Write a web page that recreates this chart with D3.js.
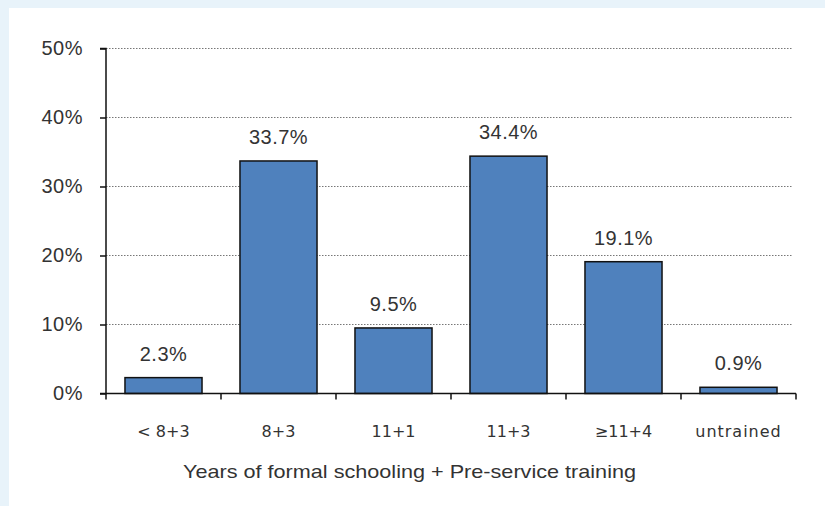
<!DOCTYPE html>
<html><head><meta charset="utf-8">
<script src="https://cdn.jsdelivr.net/npm/d3@7"></script>
<style>
html,body{margin:0;padding:0;background:#fff;}
svg{display:block;}
</style></head>
<body>
<script>
const categories = ["< 8+3", "8+3", "11+1", "11+3", "≥11+4", "untrained"];
const values = [2.3, 33.7, 9.5, 34.4, 19.1, 0.9];
const valueLabels = ["2.3%", "33.7%", "9.5%", "34.4%", "19.1%", "0.9%"];
const yTicks = [0, 10, 20, 30, 40, 50];
const xTitle = "Years of formal schooling + Pre-service training";

const W = 825, H = 506;
const svg = d3.select("body").append("svg").attr("width", W).attr("height", H);
svg.append("rect").attr("width", W).attr("height", H).attr("fill", "#e8f3fa");
svg.append("rect").attr("x", 9).attr("y", 8).attr("width", W - 9).attr("height", H - 8).attr("fill", "#fff");

const x0 = 106, x1 = 796, y0 = 393.5, y1 = 48.5;
const x = d3.scaleBand().domain(categories).range([x0, x1]).paddingInner(0.33).paddingOuter(0.165);
const y = d3.scaleLinear().domain([0, 50]).range([y0, y1]);

const fontA = "'Liberation Sans', Arial, sans-serif";
const fontT = "'DejaVu Sans', Verdana, sans-serif";
const txt = "#333";

// gridlines
svg.append("g").selectAll("line").data(yTicks.filter(d => d > 0)).join("line")
  .attr("x1", x0).attr("x2", 793).attr("y1", d => y(d)).attr("y2", d => y(d))
  .attr("stroke", "#777").attr("stroke-width", 1).attr("stroke-dasharray", "1.5,1.5");

// bars
svg.append("g").selectAll("rect").data(values).join("rect")
  .attr("x", (d, i) => x(categories[i]))
  .attr("width", x.bandwidth())
  .attr("y", d => y(d))
  .attr("height", d => y0 - y(d))
  .attr("fill", "#4f81bd").attr("stroke", "#111").attr("stroke-width", 1.5);

// value labels
svg.append("g").selectAll("text").data(values).join("text")
  .attr("x", (d, i) => x(categories[i]) + x.bandwidth() / 2)
  .attr("y", d => y(d) - 17)
  .attr("text-anchor", "middle")
  .attr("font-family", fontA).attr("font-size", 20).attr("letter-spacing", "0.5px").attr("fill", txt)
  .text((d, i) => valueLabels[i]);

// y axis
const yAxis = d3.axisLeft(y).tickValues(yTicks).tickFormat(d => d + "%").tickSize(6).tickPadding(17);
const gy = svg.append("g").attr("transform", `translate(${x0},0)`).call(yAxis);
gy.select(".domain").attr("stroke", "#111").attr("stroke-width", 1.5).attr("d", `M-6,${y1}H0V${y0}H-6`);
gy.selectAll(".tick line").attr("stroke", "#111").attr("stroke-width", 1.5);
gy.selectAll(".tick text").attr("font-family", fontA).attr("font-size", 20).attr("letter-spacing", "0.5px").attr("fill", txt);

// x axis
const xEdges = d3.range(categories.length + 1).map(i => x0 + (x1 - x0) * i / categories.length);
const gx = svg.append("g");
gx.append("line").attr("x1", x0).attr("x2", x1).attr("y1", y0).attr("y2", y0).attr("stroke", "#111").attr("stroke-width", 1.5);
gx.selectAll("line.t").data(xEdges).join("line").attr("class", "t")
  .attr("x1", d => d).attr("x2", d => d).attr("y1", y0).attr("y2", y0 + 6)
  .attr("stroke", "#111").attr("stroke-width", 1.5);
gx.selectAll("text").data(categories).join("text")
  .attr("x", d => x(d) + x.bandwidth() / 2)
  .attr("y", 437)
  .attr("text-anchor", "middle")
  .attr("font-family", fontT).attr("font-size", 16).attr("fill", txt)
  .attr("letter-spacing", d => d === "untrained" ? "1px" : "0px")
  .text(d => d);

svg.append("text").attr("x", 183).attr("y", 478)
  .attr("font-family", fontA).attr("font-size", 19).attr("fill", txt)
  .attr("textLength", 453).attr("lengthAdjust", "spacingAndGlyphs")
  .text(xTitle);
</script>
</body></html>
